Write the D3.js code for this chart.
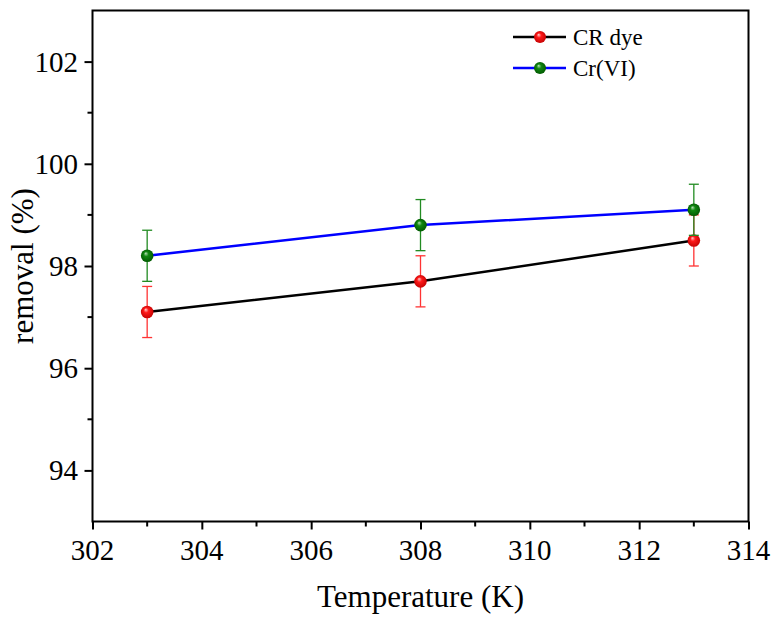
<!DOCTYPE html>
<html><head><meta charset="utf-8">
<script src="https://cdn.jsdelivr.net/npm/d3@7"></script>
<style>body{margin:0;background:#fff}svg{display:block}</style>
</head><body>
<svg id="c" width="774" height="620"></svg>
<script>
const temps = [303, 308, 313];
const crDye = [97.1, 97.7, 98.5];
const crDyeErr = [0.5, 0.5, 0.5];
const crVI = [98.2, 98.8, 99.1];
const crVIErr = [0.5, 0.5, 0.5];
const xTicks = [302, 304, 306, 308, 310, 312, 314];
const yTicks = [94, 96, 98, 100, 102];
const seriesNames = ["CR dye", "Cr(VI)"];

const svg = d3.select("#c");
const L = 92.5, R = 748.5, T = 10.5, B = 521.5;
const x = d3.scaleLinear().domain([302, 314]).range([L, R]);
const y = d3.scaleLinear().domain([93, 103]).range([B, T]);
const font = "Liberation Serif";

const defs = svg.append("defs");
function grad(id, light, mid, dark) {
  const g = defs.append("radialGradient").attr("id", id)
    .attr("cx", "50%").attr("cy", "50%").attr("r", "55%")
    .attr("fx", "38%").attr("fy", "30%");
  g.append("stop").attr("offset", "0%").attr("stop-color", light);
  g.append("stop").attr("offset", "35%").attr("stop-color", mid);
  g.append("stop").attr("offset", "100%").attr("stop-color", dark);
}
grad("gRed", "#ffd0d0", "#ff1a1a", "#c00000");
grad("gGreen", "#b8e0b8", "#118811", "#005500");

// frame
svg.append("rect").attr("x", L).attr("y", T).attr("width", R - L).attr("height", B - T)
  .attr("fill", "none").attr("stroke", "#000").attr("stroke-width", 2);

// x axis (ticks via d3 axis, labels as plain text)
const xAxis = d3.axisBottom(x).tickValues(xTicks).tickSize(8).tickFormat("");
const gx = svg.append("g").attr("transform", `translate(0,${B})`).call(xAxis);
gx.select(".domain").remove();
gx.selectAll(".tick line").attr("stroke-width", 2);
svg.append("g").selectAll("text").data(xTicks).join("text")
  .attr("x", d => x(d)).attr("y", 560).attr("text-anchor", "middle")
  .attr("font-family", font).attr("font-size", 29).attr("fill", "#000").text(d => d);
const xMinor = d3.range(303, 314, 2);
svg.append("g").selectAll("line").data(xMinor).join("line")
  .attr("x1", d => x(d)).attr("x2", d => x(d)).attr("y1", B).attr("y2", B + 5)
  .attr("stroke", "#000").attr("stroke-width", 2);

// y axis
const yAxis = d3.axisLeft(y).tickValues(yTicks).tickSize(8).tickFormat("");
const gy = svg.append("g").attr("transform", `translate(${L},0)`).call(yAxis);
gy.select(".domain").remove();
gy.selectAll(".tick line").attr("stroke-width", 2);
svg.append("g").selectAll("text").data(yTicks).join("text")
  .attr("x", 78).attr("y", d => y(d) + 10).attr("text-anchor", "end")
  .attr("font-family", font).attr("font-size", 29).attr("fill", "#000").text(d => d);
const yMinor = [95, 97, 99, 101];
svg.append("g").selectAll("line").data(yMinor).join("line")
  .attr("x1", L - 5).attr("x2", L).attr("y1", d => y(d)).attr("y2", d => y(d))
  .attr("stroke", "#000").attr("stroke-width", 2);

// titles
svg.append("text").attr("x", (L + R) / 2).attr("y", 607).attr("text-anchor", "middle")
  .attr("font-family", font).attr("font-size", 31).text("Temperature (K)");
svg.append("text").attr("transform", `translate(33,${(T + B) / 2}) rotate(-90)`).attr("text-anchor", "middle")
  .attr("font-family", font).attr("font-size", 31).text("removal (%)");

const series = [
  { name: seriesNames[0], vals: crDye, err: crDyeErr, line: "#000", bar: "#ff3333", fill: "url(#gRed)" },
  { name: seriesNames[1], vals: crVI, err: crVIErr, line: "#0000ff", bar: "#228b22", fill: "url(#gGreen)" }
];

// lines
series.forEach(s => {
  const data = temps.map((t, i) => [t, s.vals[i]]);
  svg.append("path").datum(data)
    .attr("d", d3.line().x(d => x(d[0])).y(d => y(d[1])))
    .attr("fill", "none").attr("stroke", s.line).attr("stroke-width", 2.5);
});

// error bars + markers
series.forEach(s => {
  const g = svg.append("g");
  temps.forEach((t, i) => {
    const cx = x(t), y1 = y(s.vals[i] + s.err[i]), y2 = y(s.vals[i] - s.err[i]);
    g.append("line").attr("x1", cx).attr("x2", cx).attr("y1", y1).attr("y2", y2)
      .attr("stroke", s.bar).attr("stroke-width", 1.3);
    [y1, y2].forEach(yy => g.append("line").attr("x1", cx - 5).attr("x2", cx + 5)
      .attr("y1", yy).attr("y2", yy).attr("stroke", s.bar).attr("stroke-width", 1.3));
  });
  g.selectAll("circle").data(temps).join("circle")
    .attr("cx", d => x(d)).attr("cy", (d, i) => y(s.vals[i])).attr("r", 6.3)
    .attr("fill", s.fill);
});

// legend
series.forEach((s, i) => {
  const ly = 37 + i * 31;
  svg.append("line").attr("x1", 513).attr("x2", 566).attr("y1", ly).attr("y2", ly)
    .attr("stroke", s.line).attr("stroke-width", 2.5);
  svg.append("circle").attr("cx", 540).attr("cy", ly).attr("r", 6).attr("fill", s.fill);
  svg.append("text").attr("x", 573).attr("y", ly + 8)
    .attr("font-family", font).attr("font-size", 23).text(s.name);
});
</script>
</body></html>
